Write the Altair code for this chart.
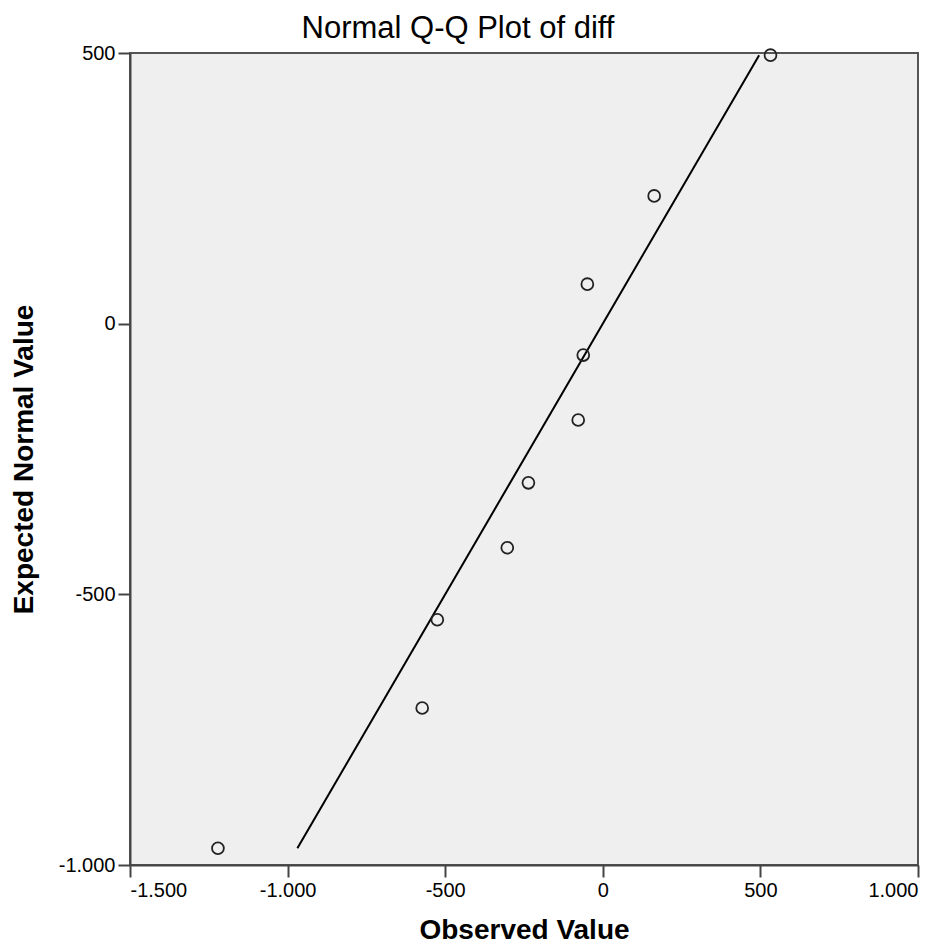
import altair as alt
import pandas as pd

# Data
observed = [-1221, -573, -525, -303, -236, -78, -62, -49, 163, 532]
expected = [-969, -710, -547, -414, -294, -178, -58, 73, 236, 496]
line_ends = [-969, 496]  # reference line y = x, spanning expected min..max

x_ticks = [-1500, -1000, -500, 0, 500, 1000]
y_ticks = [-1000, -500, 0, 500]

pts = pd.DataFrame({"obs": observed, "exp": expected})
ln = pd.DataFrame({"obs": line_ends, "exp": line_ends})

FONT = "Liberation Sans"
label_expr = "replace(replace(format(datum.value, ',d'), ',', '.'), '\u2212', '-')"

xscale = alt.Scale(domain=[-1500, 1000], nice=False, zero=False)
yscale = alt.Scale(domain=[-1000, 500], nice=False, zero=False)

xaxis = alt.Axis(title="Observed Value", values=x_ticks, labelExpr=label_expr,
                 titlePadding=16)
yaxis = alt.Axis(title="Expected Normal Value", values=y_ticks, labelExpr=label_expr,
                 titlePadding=20)

line = alt.Chart(ln).mark_line(color="black", strokeWidth=2, clip=False).encode(
    x=alt.X("obs:Q", scale=xscale, axis=xaxis),
    y=alt.Y("exp:Q", scale=yscale, axis=yaxis),
)

points = alt.Chart(pts).mark_point(shape="circle", filled=False, color="#222222",
                                   strokeWidth=1.8, size=140, opacity=1,
                                   clip=False).encode(
    x=alt.X("obs:Q", scale=xscale, axis=xaxis),
    y=alt.Y("exp:Q", scale=yscale, axis=yaxis),
)

chart = (
    alt.layer(line, points)
    .properties(
        width=788,
        height=812,
        background="white",
        title=alt.TitleParams("Normal Q-Q Plot of diff", fontSize=31, font=FONT,
                              fontWeight="normal", color="black", anchor="middle",
                              dx=-66, dy=4, offset=2),
        autosize=alt.AutoSizeParams(type="none"),
        padding={"left": 130, "top": 53, "right": 29, "bottom": 87},
    )
    .configure_view(fill="#EFEFEF", stroke="#555555", strokeWidth=2)
    .configure_axis(
        grid=False,
        domainColor="#444444",
        domainWidth=2,
        tickColor="#444444",
        tickWidth=2,
        tickSize=12,
        labelFont=FONT,
        labelFontSize=20,
        labelColor="black",
        labelPadding=3,
        titleFont=FONT,
        titleFontSize=28,
        titleFontWeight="bold",
        titleColor="black",
    )
)

chart.save("out.html", embed_options={"renderer": "svg", "actions": False})
